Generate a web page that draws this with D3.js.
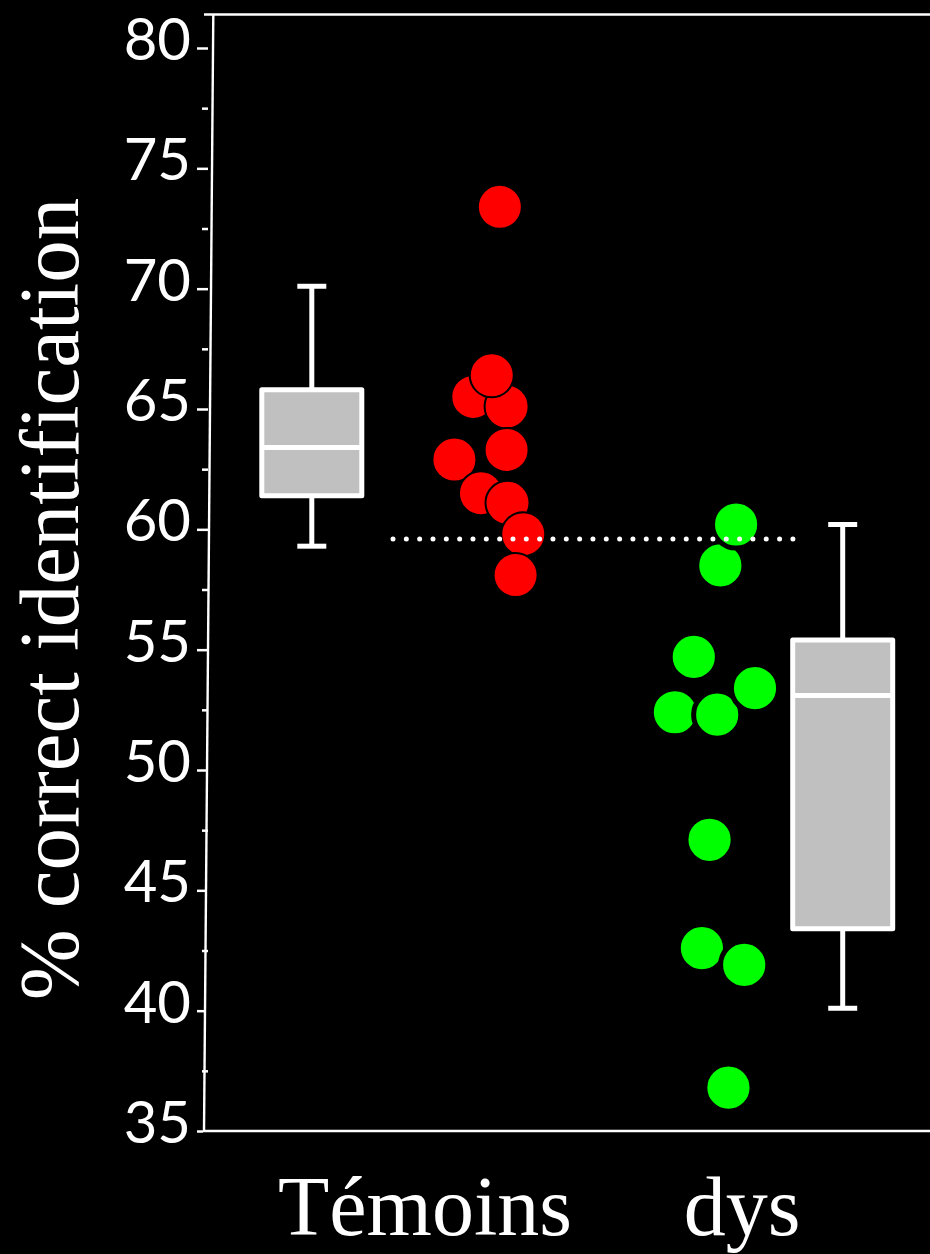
<!DOCTYPE html>
<html>
<head>
<meta charset="utf-8">
<script src="https://cdn.jsdelivr.net/npm/d3@7"></script>
<style>
  html, body { margin: 0; padding: 0; background: #000; }
  svg { display: block; }
</style>
</head>
<body>
<svg id="chart" width="930" height="1254"></svg>
<script>
// ---- data ----
const groups = ["Témoins", "dys"];

// individual scores, listed in drawing order
const temoinsScores = [73.4, 65.5, 65.1, 66.4, 63.3, 62.9, 61.5, 61.1, 59.8, 58.1];
const temoinsJitter = [0.13, -0.46, 0.28, -0.05, 0.28, -0.88, -0.29, 0.30, 0.65, 0.48];
const dysScores = [58.5, 60.2, 54.7, 52.4, 52.3, 53.4, 47.1, 42.6, 41.9, 36.8];
const dysJitter = [0.03, 0.38, -0.56, -0.98, -0.04, 0.80, -0.21, -0.38, 0.56, 0.21];

// box plot summaries per group
const whiskerLow  = [59.3, 40.1];
const quartile1   = [61.4, 43.4];
const medians     = [63.4, 53.1];
const quartile3   = [65.8, 55.4];
const whiskerHigh = [70.1, 60.2];

// reference threshold (dotted line)
const cutoff = 59.6;

const majorTicks = [35, 40, 45, 50, 55, 60, 65, 70, 75, 80];
const minorTicks = [37.5, 42.5, 47.5, 52.5, 57.5, 62.5, 67.5, 72.5, 77.5];

// ---- layout ----
const W = 930, H = 1254;
const plotTop = 14.5, plotBottom = 1131, plotRight = 930;
const axisTopX = 213.3, axisBottomX = 204;
const boxX = [311.8, 842.7];
const swarmX = [494, 719];
const labelX = [425, 742];
const boxW = 100, capW = 29;
const dotColors = ["#ff0000", "#00ff00"];

const svg = d3.select("#chart");
svg.append("rect").attr("width", W).attr("height", H).attr("fill", "#000");

const y = d3.scaleLinear().domain([35, 80]).range([1131, 48]);
const jitter = d3.scaleLinear().domain([-1, 1]).range([-45, 45]);

// x of the slightly slanted left axis line at a given pixel height
const axisXAt = py => axisTopX + (py - plotTop) * (axisBottomX - axisTopX) / (plotBottom - plotTop);

// ---- frame ----
svg.append("line")
  .attr("x1", 204).attr("x2", plotRight)
  .attr("y1", plotTop).attr("y2", plotTop)
  .attr("stroke", "#fff").attr("stroke-width", 2.4);
svg.append("line")
  .attr("x1", axisBottomX - 1).attr("x2", plotRight)
  .attr("y1", plotBottom).attr("y2", plotBottom)
  .attr("stroke", "#fff").attr("stroke-width", 2.4);
svg.append("line")
  .attr("x1", axisTopX).attr("x2", axisBottomX)
  .attr("y1", plotTop).attr("y2", plotBottom + 1)
  .attr("stroke", "#fff").attr("stroke-width", 2.4);

// ---- y axis ticks ----
const majorAxis = svg.append("g")
  .attr("transform", "translate(208,0)")
  .call(d3.axisLeft(y).tickValues(majorTicks).tickSize(11).tickFormat(""));
majorAxis.select(".domain").remove();
majorAxis.selectAll(".tick line")
  .attr("x2", -11)
  .attr("x1", d => Math.min(0, axisXAt(y(d)) - 208 - 1))
  .attr("stroke", "#fff").attr("stroke-width", 2.5);

const minorAxis = svg.append("g")
  .attr("transform", "translate(208,0)")
  .call(d3.axisLeft(y).tickValues(minorTicks).tickSize(6).tickFormat(""));
minorAxis.select(".domain").remove();
minorAxis.selectAll(".tick line")
  .attr("stroke", "#fff").attr("stroke-width", 2.5);

// tick labels
svg.append("g").selectAll("text")
  .data(majorTicks)
  .join("text")
  .attr("x", 191)
  .attr("y", d => y(d) + 12)
  .attr("text-anchor", "end")
  .attr("font-family", "Lato, 'Noto Sans', sans-serif")
  .attr("font-size", 58)
  .attr("fill", "#fff")
  .text(d => d);

// y axis title
svg.append("text")
  .attr("transform", "translate(78,599) rotate(-90)")
  .attr("text-anchor", "middle")
  .attr("font-family", "'Liberation Serif', 'Times New Roman', serif")
  .attr("font-size", 85)
  .attr("fill", "#fff")
  .text("% correct identification");

// group labels
svg.append("g").selectAll("text")
  .data(groups)
  .join("text")
  .attr("x", (d, i) => labelX[i])
  .attr("y", 1235)
  .attr("text-anchor", "middle")
  .attr("font-family", "'Liberation Serif', 'Times New Roman', serif")
  .attr("font-size", 84)
  .attr("fill", "#fff")
  .text(d => d);

// ---- box plots ----
const boxes = groups.map((g, i) => ({
  cx: boxX[i], lo: whiskerLow[i], q1: quartile1[i], med: medians[i], q3: quartile3[i], hi: whiskerHigh[i]
}));
const bg = svg.append("g").selectAll("g").data(boxes).join("g");
bg.append("line") // upper whisker
  .attr("x1", d => d.cx).attr("x2", d => d.cx)
  .attr("y1", d => y(d.hi)).attr("y2", d => y(d.q3))
  .attr("stroke", "#fff").attr("stroke-width", 5);
bg.append("line") // lower whisker
  .attr("x1", d => d.cx).attr("x2", d => d.cx)
  .attr("y1", d => y(d.q1)).attr("y2", d => y(d.lo))
  .attr("stroke", "#fff").attr("stroke-width", 5);
bg.append("line") // upper cap
  .attr("x1", d => d.cx - capW / 2).attr("x2", d => d.cx + capW / 2)
  .attr("y1", d => y(d.hi)).attr("y2", d => y(d.hi))
  .attr("stroke", "#fff").attr("stroke-width", 5);
bg.append("line") // lower cap
  .attr("x1", d => d.cx - capW / 2).attr("x2", d => d.cx + capW / 2)
  .attr("y1", d => y(d.lo)).attr("y2", d => y(d.lo))
  .attr("stroke", "#fff").attr("stroke-width", 5);
bg.append("rect")
  .attr("x", d => d.cx - boxW / 2).attr("width", boxW)
  .attr("y", d => y(d.q3)).attr("height", d => y(d.q1) - y(d.q3))
  .attr("fill", "#c0c0c0").attr("stroke", "#fff").attr("stroke-width", 5)
  .attr("stroke-linejoin", "round");
bg.append("line") // median
  .attr("x1", d => d.cx - boxW / 2).attr("x2", d => d.cx + boxW / 2)
  .attr("y1", d => y(d.med)).attr("y2", d => y(d.med))
  .attr("stroke", "#fff").attr("stroke-width", 5);

// ---- individual points ----
const pointSets = [
  { scores: temoinsScores, jit: temoinsJitter, r: 22, sw: 2 },
  { scores: dysScores, jit: dysJitter, r: 23.6, sw: 5 }
];
pointSets.forEach((set, gi) => {
  svg.append("g").selectAll("circle")
    .data(set.scores.map((v, k) => ({ v, j: set.jit[k] })))
    .join("circle")
    .attr("cx", d => swarmX[gi] + jitter(d.j))
    .attr("cy", d => y(d.v))
    .attr("r", set.r)
    .attr("fill", dotColors[gi])
    .attr("stroke", "#000")
    .attr("stroke-width", set.sw);
});

// ---- threshold line ----
svg.append("line")
  .attr("x1", 393).attr("x2", 795)
  .attr("y1", y(cutoff)).attr("y2", y(cutoff))
  .attr("stroke", "#fff").attr("stroke-width", 5)
  .attr("stroke-linecap", "round")
  .attr("stroke-dasharray", "0 13.33");
</script>
</body>
</html>
